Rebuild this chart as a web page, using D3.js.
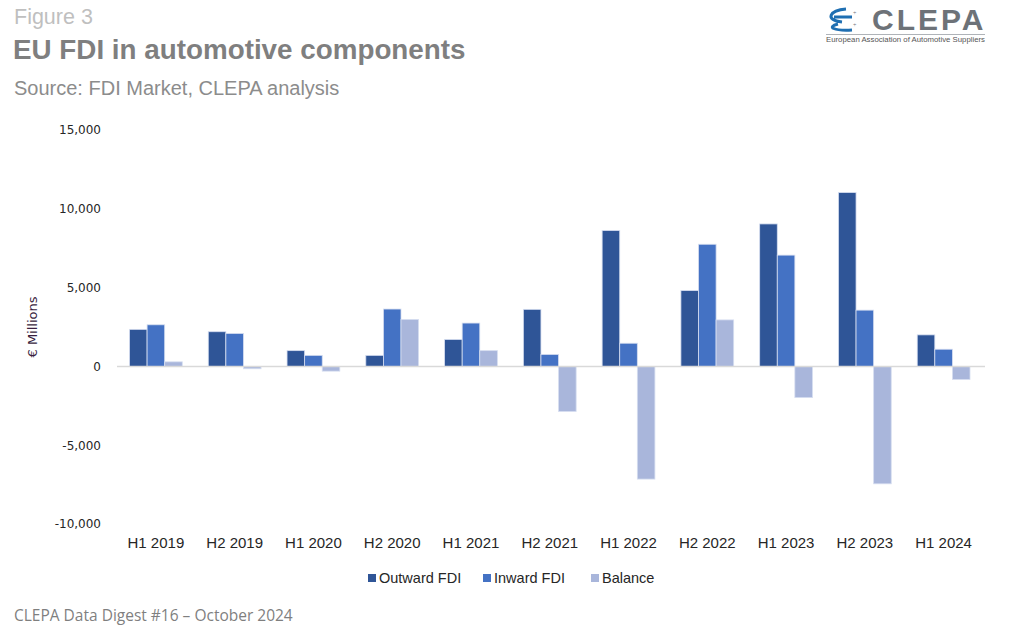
<!DOCTYPE html>
<html><head><meta charset="utf-8">
<script src="https://cdn.jsdelivr.net/npm/d3@7/dist/d3.min.js"></script>
<style>body{margin:0;background:#fff;}svg{display:block;}</style>
</head><body>
<svg id="c" width="1009" height="640"></svg>
<script>
const categories = ["H1 2019","H2 2019","H1 2020","H2 2020","H1 2021","H2 2021","H1 2022","H2 2022","H1 2023","H2 2023","H1 2024"];
const outward = [2350, 2200, 1000, 700, 1710, 3620, 8620, 4810, 9040, 11030, 2000];
const inward  = [2640, 2090, 700, 3640, 2750, 760, 1470, 7750, 7060, 3570, 1090];
const balance = [290, -150, -300, 2980, 1000, -2860, -7150, 2950, -1980, -7450, -830];
const seriesNames = ["Outward FDI","Inward FDI","Balance"];
const yTicks = [-10000,-5000,0,5000,10000,15000];

const colors = ["#2F5597","#4472C4","#A9B6DB"];
const svg = d3.select("#c");
const font = "Arial, 'Liberation Sans', sans-serif";

// Header
svg.append("text").attr("x",14).attr("y",24).attr("font-family",font).attr("font-size",21.5).attr("fill","#bfbfbf").text("Figure 3");
svg.append("text").attr("x",13).attr("y",59).attr("font-family",font).attr("font-size",27.8).attr("font-weight","bold").attr("fill","#7f7f7f").text("EU FDI in automotive components");
svg.append("text").attr("x",14).attr("y",95).attr("font-family",font).attr("font-size",20).attr("fill","#8c8c8c").text("Source: FDI Market, CLEPA analysis");

// Logo
const logo = svg.append("g");
logo.append("path").attr("d","M846,9 C830,10 824,20 842,22 M834,17 L852,17 M838,24 C826,27 834,31 852,30").attr("fill","none").attr("stroke","#1f6fb2").attr("stroke-width",3);
logo.append("text").attr("x",853).attr("y",15).attr("font-size",6).attr("fill","#6d7278").text("+");
logo.append("text").attr("x",853).attr("y",27).attr("font-size",6).attr("fill","#6d7278").text("+");
logo.append("text").attr("x",872).attr("y",30).attr("font-family",font).attr("font-size",30).attr("font-weight","bold").attr("letter-spacing",3).attr("fill","#6d7278").text("CLEPA");
logo.append("line").attr("x1",826).attr("x2",985).attr("y1",34.5).attr("y2",34.5).attr("stroke","#9aa0a6").attr("stroke-width",0.8);
logo.append("text").attr("x",826).attr("y",42).attr("font-family",font).attr("font-size",7.6).attr("fill","#555").attr("textLength",159).attr("lengthAdjust","spacingAndGlyphs").text("European Association of Automotive Suppliers");

// Scales
const x0 = d3.scaleBand().domain(categories).range([116.5, 983]).paddingInner(0.33).paddingOuter(0.165);
const x1 = d3.scaleBand().domain(seriesNames).range([0, x0.bandwidth()]);
const y = d3.scaleLinear().domain([-10000, 15000]).range([524, 130]);

// Y axis labels
const fmt = d3.format(",");
const yAxis = d3.axisLeft(y).tickValues(yTicks).tickSize(0).tickPadding(0).tickFormat(d => fmt(d).replace("−","-"));
const ya = svg.append("g").attr("transform","translate(101,0)").call(yAxis);
ya.select(".domain").remove();
ya.selectAll("text").attr("font-family","'DejaVu Sans', Verdana, sans-serif").attr("font-size",12).attr("fill","#262626");

// Y title
svg.append("text").attr("transform","translate(37,327) rotate(-90)").attr("text-anchor","middle").attr("font-family","'DejaVu Sans', Verdana, sans-serif").attr("font-size",13).attr("fill","#3a1f3f").text("€ Millions");

// Bars
const data = categories.map((c,i)=>({c, vals:[outward[i], inward[i], balance[i]]}));
const g = svg.append("g");
data.forEach(d=>{
  d.vals.forEach((v,j)=>{
    g.append("rect")
      .attr("x", x0(d.c) + x1(seriesNames[j]))
      .attr("width", x1.bandwidth())
      .attr("y", y(Math.max(0,v)))
      .attr("height", Math.abs(y(v)-y(0)))
      .attr("fill", colors[j])
      .attr("stroke","#d6def0").attr("stroke-width",0.8);
  });
});

// Zero line
svg.append("line").attr("x1",117).attr("x2",985).attr("y1",y(0)).attr("y2",y(0)).attr("stroke","#d9d9d9").attr("stroke-width",1.5);

// X axis labels
const xAxis = d3.axisBottom(x0).tickSize(0).tickPadding(0);
const xa = svg.append("g").attr("transform","translate(0,537)").call(xAxis);
xa.select(".domain").remove();
xa.selectAll("text").attr("font-family",font).attr("font-size",15).attr("fill","#262626");

// Legend
const legX = [368, 483, 591];
seriesNames.forEach((s,j)=>{
  svg.append("rect").attr("x",legX[j]).attr("y",574).attr("width",8).attr("height",8).attr("fill",colors[j]);
  svg.append("text").attr("x",legX[j]+11).attr("y",583).attr("font-family",font).attr("font-size",14.5).attr("fill","#262626").text(s);
});

// Footer
svg.append("text").attr("x",14).attr("y",621).attr("font-family","'Open Sans', Lato, sans-serif").attr("font-size",15.5).attr("fill","#7f7f7f").text("CLEPA Data Digest #16 – October 2024");
</script>
</body></html>
